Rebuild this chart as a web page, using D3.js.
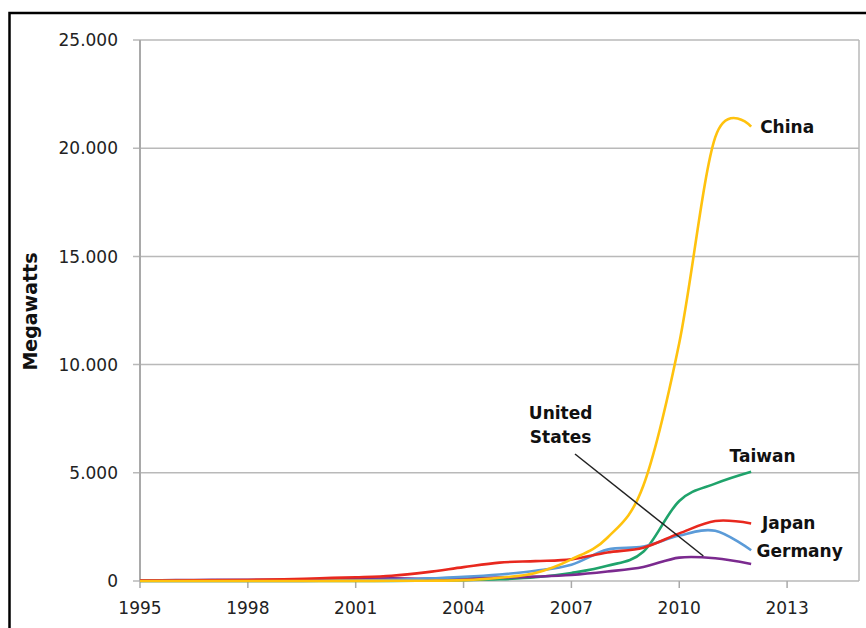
<!DOCTYPE html>
<html>
<head>
<meta charset="utf-8">
<script src="https://cdn.jsdelivr.net/npm/d3@7"></script>
<style>
  body { margin: 0; background: #fff; }
  svg { display: block; }
  .tick-label { font-family: "DejaVu Sans", sans-serif; font-size: 17px; fill: #222; }
  .series-label { font-family: "DejaVu Sans", sans-serif; font-weight: bold; font-size: 17px; fill: #111; }
</style>
</head>
<body>
<div id="chart"></div>
<script>
// values in megawatts
var years   = [1995,1996,1997,1998,1999,2000,2001,2002,2003,2004,2005,2006,2007,2008,2009,2010,2011,2012];
var china   = [0,0,0,0,0,3,5,10,15,40,150,370,1000,2000,4400,11000,20500,21000];
var taiwan  = [0,0,0,0,0,0,0,5,15,40,80,170,370,700,1350,3700,4500,5050];
var japan   = [16,21,35,49,80,128,171,240,410,640,850,920,1000,1320,1540,2200,2770,2660];
var germany = [0,0,0,0,5,10,20,50,120,190,300,470,750,1450,1590,2100,2320,1420];
var usa     = [35,39,52,54,60,75,100,120,103,139,154,202,280,440,650,1080,1050,790];

var yTicks = [0,5000,10000,15000,20000,25000];
var xTicks = [1995,1998,2001,2004,2007,2010,2013];

var series = [
  { name: "Taiwan",  values: taiwan,  color: "#1fa36b", label: [2011.4, 5780] },
  { name: "United States", values: usa, color: "#7b2a8f", label: null },
  { name: "Germany", values: germany, color: "#5b9bd8", label: [2012.15, 1390] },
  { name: "Japan",   values: japan,   color: "#e8281e", label: [2012.3, 2680] },
  { name: "China",   values: china,   color: "#ffc20e", label: [2012.25, 21000] }
];

// "United States" callout: text lines and leader line, in data units
var usLabel = { lines: ["United", "States"], x: 2006.7, y: [7760, 6650] };
var usLeader = [[2007.1, 5870], [2010.67, 1155]];

var width = 866, height = 628;
var margins = { top: 40, right: 7, bottom: 47, left: 140 };

var svg = d3.select("#chart").append("svg")
  .attr("width", width)
  .attr("height", height);

// outer frame
svg.append("rect")
  .attr("x", 9.5).attr("y", 13)
  .attr("width", 900).attr("height", 700)
  .style("fill", "none")
  .style("stroke", "#000")
  .style("stroke-width", 2.5);

var xScale = d3.scaleLinear()
  .domain([1995, 2015])
  .range([margins.left, width - margins.right]);

var yScale = d3.scaleLinear()
  .domain([0, 25000])
  .range([height - margins.bottom, margins.top]);

var chart = svg.append("g");

// gridlines
chart.selectAll(".grid")
  .data(yTicks).join("line")
  .attr("class", "grid")
  .attr("x1", xScale(1995) - 7)
  .attr("x2", xScale(2015))
  .attr("y1", d => yScale(d))
  .attr("y2", d => yScale(d))
  .style("stroke", "#b9b9b9")
  .style("stroke-width", 1.5);

// left axis line and right edge
chart.append("line")
  .attr("x1", xScale(1995)).attr("x2", xScale(1995))
  .attr("y1", yScale(25000)).attr("y2", yScale(0))
  .style("stroke", "#a9a9a9").style("stroke-width", 2);
chart.append("line")
  .attr("x1", xScale(2015)).attr("x2", xScale(2015))
  .attr("y1", yScale(25000)).attr("y2", yScale(0))
  .style("stroke", "#b9b9b9").style("stroke-width", 1.5);

// x ticks
chart.selectAll(".xtick")
  .data(xTicks).join("line")
  .attr("class", "xtick")
  .attr("x1", d => xScale(d)).attr("x2", d => xScale(d))
  .attr("y1", yScale(0)).attr("y2", yScale(0) + 7)
  .style("stroke", "#a9a9a9").style("stroke-width", 1.5);

chart.selectAll(".x-label")
  .data(xTicks).join("text")
  .attr("class", "tick-label x-label")
  .attr("x", d => xScale(d))
  .attr("y", yScale(0) + 33)
  .attr("text-anchor", "middle")
  .text(d => d);

var fmt = d3.formatLocale({ decimal: ",", thousands: ".", grouping: [3], currency: ["", ""] }).format(",");

chart.selectAll(".y-label")
  .data(yTicks).join("text")
  .attr("class", "tick-label y-label")
  .attr("x", xScale(1995) - 22)
  .attr("y", d => yScale(d))
  .attr("dy", "0.36em")
  .attr("text-anchor", "end")
  .text(d => fmt(d));

svg.append("text")
  .attr("class", "series-label")
  .attr("transform", "translate(37," + yScale(12450) + ") rotate(-90)")
  .attr("text-anchor", "middle")
  .style("font-size", "19px")
  .text("Megawatts");

var line = d3.line()
  .x((d, i) => xScale(years[i]))
  .y(d => yScale(d))
  .curve(d3.curveCatmullRom.alpha(0));

chart.selectAll(".series")
  .data(series).join("path")
  .attr("class", "series")
  .attr("d", d => line(d.values))
  .style("fill", "none")
  .style("stroke", d => d.color)
  .style("stroke-width", 2.6)
  .style("stroke-linejoin", "round");

chart.selectAll(".end-label")
  .data(series.filter(d => d.label)).join("text")
  .attr("class", "series-label end-label")
  .attr("x", d => xScale(d.label[0]))
  .attr("y", d => yScale(d.label[1]))
  .attr("dy", "0.36em")
  .text(d => d.name);

chart.append("line")
  .attr("x1", xScale(usLeader[0][0])).attr("y1", yScale(usLeader[0][1]))
  .attr("x2", xScale(usLeader[1][0])).attr("y2", yScale(usLeader[1][1]))
  .style("stroke", "#222").style("stroke-width", 1.5);

chart.selectAll(".us-label")
  .data(usLabel.lines).join("text")
  .attr("class", "series-label us-label")
  .attr("x", xScale(usLabel.x))
  .attr("y", (d, i) => yScale(usLabel.y[i]))
  .attr("dy", "0.36em")
  .attr("text-anchor", "middle")
  .text(d => d);
</script>
</body>
</html>
